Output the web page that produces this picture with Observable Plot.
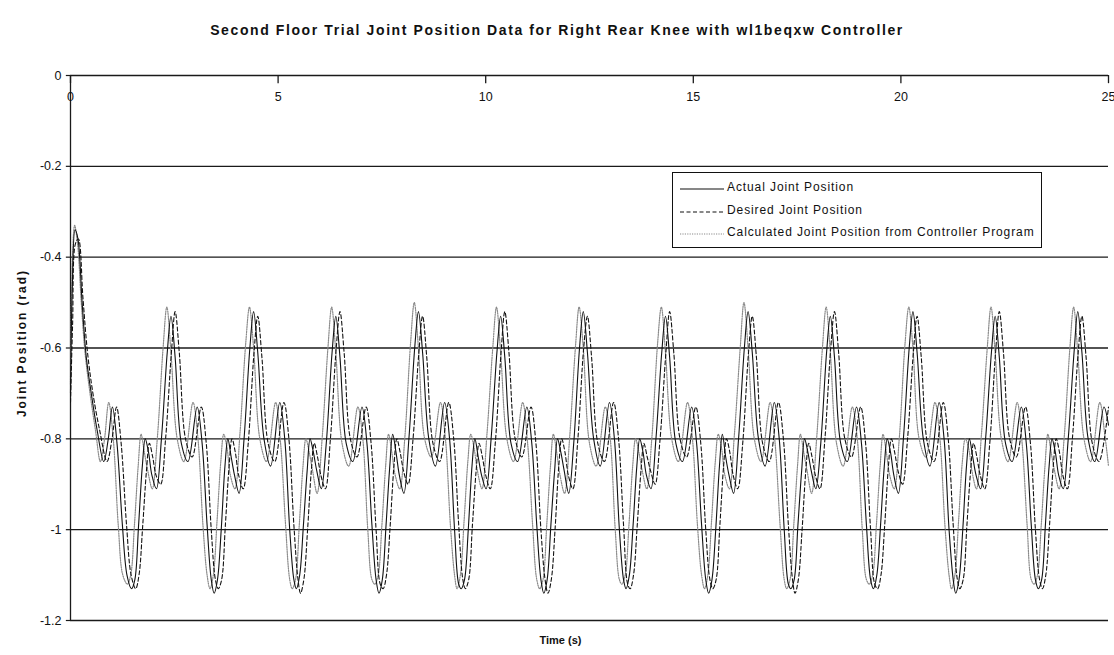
<!DOCTYPE html>
<html>
<head>
<meta charset="utf-8">
<script src="https://cdn.jsdelivr.net/npm/d3@7"></script>
<script src="https://cdn.jsdelivr.net/npm/@observablehq/plot@0.6"></script>
<style>
  body { margin:0; background:#fff; font-family:"Liberation Sans", Arial, sans-serif; }
  #wrap { position:relative; width:1114px; height:655px; }
  #title { height:45px; box-sizing:border-box; padding-top:22px; text-align:center; font-weight:bold; font-size:14px; letter-spacing:1.6px; line-height:16px; color:#111; }
  #legend { position:absolute; left:672px; top:172px; width:370px; height:76px; border:1px solid #111; background:#fff; box-sizing:border-box; }
  #legend .row { position:absolute; left:0; height:20px; width:100%; font-size:12px; letter-spacing:0.9px; color:#111; }
  #legend svg { position:absolute; left:7px; top:9px; }
  #legend span { position:absolute; left:54px; top:2px; white-space:nowrap; }
</style>
</head>
<body>
<div id="wrap">
  <div id="title"></div>
  <div id="chart"></div>
  <div id="legend"></div>
</div>
<script>
const titleText = "Second Floor Trial Joint Position Data for Right Rear Knee with wl1beqxw Controller";
const xLabel = "Time (s)";
const yLabel = "Joint Position (rad)";
const xTicks = [0, 5, 10, 15, 20, 25];
const yTicks = [0, -0.2, -0.4, -0.6, -0.8, -1, -1.2];
const yTickLabels = ["0", "-0.2", "-0.4", "-0.6", "-0.8", "-1", "-1.2"];
const seriesNames = ["Actual Joint Position", "Desired Joint Position", "Calculated Joint Position from Controller Program"];

// Actual joint position (solid)
const actualTime = [
  0,0.04,0.11,0.18,0.28,0.38,0.50,0.64,0.80,0.91,1.01,1.12,1.25,1.36,
  1.47,1.55,1.64,1.73,1.80,1.88,1.96,2.07,2.19,2.33,2.42,2.52,2.67,2.83,3.05,3.17,3.29,3.39,
  3.46,3.54,3.63,3.72,3.79,3.87,3.95,4.06,4.18,4.32,4.41,4.51,4.66,4.82,5.04,5.16,5.28,5.38,
  5.44,5.52,5.61,5.70,5.77,5.85,5.93,6.04,6.16,6.30,6.39,6.49,6.64,6.80,7.02,7.14,7.26,7.36,
  7.43,7.51,7.60,7.69,7.76,7.84,7.92,8.03,8.15,8.29,8.38,8.48,8.63,8.79,9.01,9.13,9.25,9.35,
  9.41,9.49,9.58,9.67,9.74,9.82,9.90,10.01,10.13,10.27,10.36,10.46,10.61,10.77,10.99,11.11,11.23,11.33,
  11.40,11.48,11.57,11.66,11.73,11.81,11.89,12.00,12.12,12.26,12.35,12.45,12.60,12.76,12.98,13.10,13.22,13.32,
  13.38,13.46,13.55,13.64,13.71,13.79,13.87,13.98,14.10,14.24,14.33,14.43,14.58,14.74,14.96,15.08,15.20,15.30,
  15.37,15.45,15.54,15.63,15.70,15.78,15.86,15.97,16.09,16.23,16.32,16.42,16.57,16.73,16.95,17.07,17.19,17.29,
  17.35,17.43,17.52,17.61,17.68,17.76,17.84,17.95,18.07,18.21,18.30,18.40,18.55,18.71,18.93,19.05,19.17,19.27,
  19.34,19.42,19.51,19.60,19.67,19.75,19.83,19.94,20.06,20.20,20.29,20.39,20.54,20.70,20.92,21.04,21.16,21.26,
  21.32,21.40,21.49,21.58,21.65,21.73,21.81,21.92,22.04,22.18,22.27,22.37,22.52,22.68,22.90,23.02,23.14,23.24,
  23.31,23.39,23.48,23.57,23.64,23.72,23.80,23.91,24.03,24.17,24.26,24.36,24.51,24.67,24.89,25.00
];
const actualValue = [
  -0.70,-0.48,-0.34,-0.36,-0.50,-0.62,-0.70,-0.78,-0.85,-0.80,-0.73,-0.81,-0.99,-1.10,
  -1.13,-1.11,-0.99,-0.86,-0.80,-0.83,-0.88,-0.91,-0.80,-0.61,-0.53,-0.62,-0.81,-0.85,-0.73,-0.81,-0.99,-1.11,
  -1.14,-1.11,-1.00,-0.86,-0.80,-0.84,-0.88,-0.92,-0.80,-0.60,-0.52,-0.61,-0.80,-0.86,-0.72,-0.80,-1.00,-1.11,
  -1.13,-1.10,-0.99,-0.87,-0.80,-0.83,-0.87,-0.91,-0.81,-0.61,-0.53,-0.62,-0.81,-0.85,-0.73,-0.81,-0.99,-1.11,
  -1.14,-1.11,-0.99,-0.86,-0.79,-0.83,-0.88,-0.92,-0.80,-0.60,-0.52,-0.61,-0.80,-0.86,-0.72,-0.80,-1.00,-1.12,
  -1.13,-1.11,-1.00,-0.86,-0.80,-0.84,-0.88,-0.91,-0.80,-0.61,-0.53,-0.62,-0.81,-0.85,-0.73,-0.81,-0.99,-1.11,
  -1.14,-1.11,-0.99,-0.87,-0.80,-0.83,-0.87,-0.92,-0.81,-0.60,-0.52,-0.61,-0.80,-0.86,-0.72,-0.80,-1.00,-1.11,
  -1.13,-1.10,-0.99,-0.86,-0.80,-0.83,-0.88,-0.91,-0.80,-0.61,-0.53,-0.62,-0.81,-0.85,-0.73,-0.81,-0.99,-1.11,
  -1.14,-1.11,-1.00,-0.86,-0.79,-0.84,-0.88,-0.92,-0.80,-0.60,-0.52,-0.61,-0.80,-0.86,-0.72,-0.80,-1.00,-1.12,
  -1.13,-1.11,-0.99,-0.87,-0.80,-0.83,-0.87,-0.91,-0.81,-0.61,-0.53,-0.62,-0.81,-0.85,-0.73,-0.81,-0.99,-1.11,
  -1.13,-1.10,-0.99,-0.86,-0.80,-0.83,-0.88,-0.92,-0.80,-0.60,-0.52,-0.61,-0.80,-0.86,-0.72,-0.80,-1.00,-1.11,
  -1.14,-1.11,-1.00,-0.86,-0.80,-0.84,-0.88,-0.91,-0.80,-0.61,-0.53,-0.62,-0.81,-0.85,-0.73,-0.81,-0.99,-1.11,
  -1.13,-1.11,-0.99,-0.86,-0.80,-0.83,-0.88,-0.91,-0.80,-0.61,-0.52,-0.61,-0.80,-0.85,-0.73,-0.77
];

// Desired joint position (dashed)
const desiredTime = [
  0,0.05,0.12,0.19,0.30,0.41,0.54,0.70,0.88,1.00,1.11,1.22,1.35,1.46,
  1.57,1.65,1.74,1.83,1.90,1.98,2.06,2.17,2.29,2.43,2.52,2.62,2.77,2.93,3.15,3.27,3.39,3.49,
  3.56,3.64,3.73,3.82,3.89,3.97,4.05,4.16,4.28,4.42,4.51,4.61,4.76,4.92,5.14,5.26,5.38,5.48,
  5.54,5.62,5.71,5.80,5.87,5.95,6.03,6.14,6.26,6.40,6.49,6.59,6.74,6.90,7.12,7.24,7.36,7.46,
  7.53,7.61,7.70,7.79,7.86,7.94,8.02,8.13,8.25,8.39,8.48,8.58,8.73,8.89,9.11,9.23,9.35,9.45,
  9.51,9.59,9.68,9.77,9.84,9.92,10.00,10.11,10.23,10.37,10.46,10.56,10.71,10.87,11.09,11.21,11.33,11.43,
  11.50,11.58,11.67,11.76,11.83,11.91,11.99,12.10,12.22,12.36,12.45,12.55,12.70,12.86,13.08,13.20,13.32,13.42,
  13.48,13.56,13.65,13.74,13.81,13.89,13.97,14.08,14.20,14.34,14.43,14.53,14.68,14.84,15.06,15.18,15.30,15.40,
  15.47,15.55,15.64,15.73,15.80,15.88,15.96,16.07,16.19,16.33,16.42,16.52,16.67,16.83,17.05,17.17,17.29,17.39,
  17.45,17.53,17.62,17.71,17.78,17.86,17.94,18.05,18.17,18.31,18.40,18.50,18.65,18.81,19.03,19.15,19.27,19.37,
  19.44,19.52,19.61,19.70,19.77,19.85,19.93,20.04,20.16,20.30,20.39,20.49,20.64,20.80,21.02,21.14,21.26,21.36,
  21.42,21.50,21.59,21.68,21.75,21.83,21.91,22.02,22.14,22.28,22.37,22.47,22.62,22.78,23.00,23.12,23.24,23.34,
  23.41,23.49,23.58,23.67,23.74,23.82,23.90,24.01,24.13,24.27,24.36,24.46,24.61,24.77,25.00
];
const desiredValue = [
  -0.72,-0.55,-0.37,-0.36,-0.49,-0.61,-0.70,-0.78,-0.85,-0.80,-0.73,-0.81,-0.99,-1.10,
  -1.13,-1.10,-0.99,-0.87,-0.81,-0.84,-0.88,-0.90,-0.80,-0.61,-0.52,-0.61,-0.80,-0.84,-0.73,-0.81,-1.00,-1.11,
  -1.13,-1.11,-0.99,-0.86,-0.80,-0.83,-0.88,-0.91,-0.81,-0.61,-0.53,-0.62,-0.81,-0.85,-0.72,-0.80,-0.99,-1.11,
  -1.14,-1.11,-1.00,-0.87,-0.81,-0.84,-0.88,-0.91,-0.80,-0.60,-0.52,-0.61,-0.80,-0.84,-0.73,-0.81,-1.00,-1.12,
  -1.13,-1.10,-0.99,-0.86,-0.80,-0.83,-0.87,-0.90,-0.80,-0.61,-0.53,-0.62,-0.81,-0.85,-0.72,-0.80,-0.99,-1.11,
  -1.13,-1.11,-0.99,-0.87,-0.81,-0.84,-0.88,-0.91,-0.81,-0.61,-0.52,-0.61,-0.80,-0.84,-0.73,-0.81,-1.00,-1.11,
  -1.14,-1.11,-1.00,-0.86,-0.80,-0.83,-0.88,-0.91,-0.80,-0.60,-0.53,-0.62,-0.81,-0.85,-0.72,-0.80,-0.99,-1.12,
  -1.13,-1.10,-0.99,-0.87,-0.81,-0.84,-0.87,-0.90,-0.80,-0.61,-0.52,-0.61,-0.80,-0.84,-0.73,-0.81,-1.00,-1.11,
  -1.13,-1.11,-0.99,-0.86,-0.80,-0.83,-0.88,-0.91,-0.81,-0.61,-0.53,-0.62,-0.81,-0.85,-0.72,-0.80,-0.99,-1.11,
  -1.14,-1.11,-1.00,-0.87,-0.81,-0.84,-0.88,-0.91,-0.80,-0.60,-0.52,-0.61,-0.80,-0.84,-0.73,-0.81,-1.00,-1.12,
  -1.13,-1.10,-0.99,-0.86,-0.80,-0.83,-0.87,-0.90,-0.80,-0.61,-0.53,-0.62,-0.81,-0.85,-0.72,-0.80,-0.99,-1.11,
  -1.13,-1.11,-0.99,-0.87,-0.81,-0.84,-0.88,-0.91,-0.81,-0.61,-0.52,-0.61,-0.80,-0.84,-0.73,-0.81,-1.00,-1.11,
  -1.13,-1.10,-0.99,-0.86,-0.80,-0.83,-0.88,-0.91,-0.80,-0.61,-0.53,-0.62,-0.81,-0.85,-0.73
];

// Calculated joint position from controller program (dotted grey)
const calcTime = [
  0,0.04,0.10,0.17,0.26,0.35,0.47,0.60,0.72,0.82,0.92,1.03,1.15,1.26,
  1.37,1.45,1.54,1.63,1.70,1.78,1.86,1.97,2.09,2.23,2.32,2.42,2.57,2.73,2.95,3.07,3.19,3.29,
  3.36,3.44,3.53,3.62,3.69,3.77,3.85,3.96,4.08,4.22,4.31,4.41,4.56,4.72,4.94,5.06,5.18,5.28,
  5.34,5.42,5.51,5.60,5.67,5.75,5.83,5.94,6.06,6.20,6.29,6.39,6.54,6.70,6.92,7.04,7.16,7.26,
  7.33,7.41,7.50,7.59,7.66,7.74,7.82,7.93,8.05,8.19,8.28,8.38,8.53,8.69,8.91,9.03,9.15,9.25,
  9.31,9.39,9.48,9.57,9.64,9.72,9.80,9.91,10.03,10.17,10.26,10.36,10.51,10.67,10.89,11.01,11.13,11.23,
  11.30,11.38,11.47,11.56,11.63,11.71,11.79,11.90,12.02,12.16,12.25,12.35,12.50,12.66,12.88,13.00,13.12,13.22,
  13.28,13.36,13.45,13.54,13.61,13.69,13.77,13.88,14.00,14.14,14.23,14.33,14.48,14.64,14.86,14.98,15.10,15.20,
  15.27,15.35,15.44,15.53,15.60,15.68,15.76,15.87,15.99,16.13,16.22,16.32,16.47,16.63,16.85,16.97,17.09,17.19,
  17.25,17.33,17.42,17.51,17.58,17.66,17.74,17.85,17.97,18.11,18.20,18.30,18.45,18.61,18.83,18.95,19.07,19.17,
  19.24,19.32,19.41,19.50,19.57,19.65,19.73,19.84,19.96,20.10,20.19,20.29,20.44,20.60,20.82,20.94,21.06,21.16,
  21.22,21.30,21.39,21.48,21.55,21.63,21.71,21.82,21.94,22.08,22.17,22.27,22.42,22.58,22.80,22.92,23.04,23.14,
  23.21,23.29,23.38,23.47,23.54,23.62,23.70,23.81,23.93,24.07,24.16,24.26,24.41,24.57,24.79,24.91,25.00
];
const calcValue = [
  -0.68,-0.42,-0.33,-0.37,-0.50,-0.61,-0.70,-0.78,-0.85,-0.80,-0.72,-0.80,-0.99,-1.10,
  -1.12,-1.10,-0.99,-0.86,-0.79,-0.83,-0.87,-0.91,-0.80,-0.60,-0.51,-0.61,-0.80,-0.85,-0.72,-0.80,-0.99,-1.10,
  -1.13,-1.10,-0.98,-0.85,-0.79,-0.82,-0.88,-0.91,-0.79,-0.59,-0.51,-0.60,-0.80,-0.85,-0.72,-0.81,-0.99,-1.11,
  -1.13,-1.11,-0.99,-0.86,-0.80,-0.83,-0.87,-0.92,-0.80,-0.60,-0.51,-0.61,-0.81,-0.86,-0.73,-0.80,-1.00,-1.11,
  -1.12,-1.10,-0.99,-0.86,-0.79,-0.83,-0.88,-0.91,-0.80,-0.59,-0.50,-0.60,-0.80,-0.84,-0.72,-0.80,-0.99,-1.10,
  -1.13,-1.10,-0.98,-0.85,-0.79,-0.82,-0.87,-0.91,-0.79,-0.60,-0.51,-0.61,-0.80,-0.85,-0.72,-0.81,-0.99,-1.11,
  -1.13,-1.11,-0.99,-0.86,-0.79,-0.83,-0.88,-0.92,-0.80,-0.60,-0.51,-0.60,-0.81,-0.86,-0.73,-0.80,-1.00,-1.11,
  -1.12,-1.10,-0.99,-0.86,-0.80,-0.83,-0.87,-0.91,-0.80,-0.59,-0.51,-0.61,-0.80,-0.85,-0.72,-0.80,-0.99,-1.10,
  -1.13,-1.10,-0.98,-0.85,-0.79,-0.82,-0.88,-0.91,-0.79,-0.60,-0.50,-0.60,-0.80,-0.85,-0.72,-0.81,-0.99,-1.11,
  -1.13,-1.11,-0.99,-0.86,-0.79,-0.83,-0.87,-0.92,-0.80,-0.60,-0.51,-0.61,-0.81,-0.86,-0.73,-0.80,-1.00,-1.11,
  -1.12,-1.10,-0.99,-0.86,-0.79,-0.83,-0.88,-0.91,-0.80,-0.59,-0.51,-0.60,-0.80,-0.84,-0.72,-0.80,-0.99,-1.10,
  -1.13,-1.10,-0.98,-0.85,-0.80,-0.82,-0.87,-0.91,-0.79,-0.60,-0.51,-0.61,-0.80,-0.85,-0.72,-0.81,-0.99,-1.11,
  -1.12,-1.10,-0.99,-0.86,-0.79,-0.83,-0.87,-0.91,-0.80,-0.60,-0.51,-0.61,-0.80,-0.85,-0.72,-0.79,-0.86
];

const styles = [
  {stroke: "#111", strokeWidth: 1.1, dash: null},
  {stroke: "#111", strokeWidth: 1.1, dash: "4,2.5"},
  {stroke: "#8a8a8a", strokeWidth: 1.2, dash: "1.2,1.2"}
];

function build(name, t, v) {
  return d3.zip(t, v).map(([time, value]) => ({series: name, time, value}));
}
const data = [
  build(seriesNames[0], actualTime, actualValue),
  build(seriesNames[1], desiredTime, desiredValue),
  build(seriesNames[2], calcTime, calcValue)
];

const font = "Liberation Sans, Arial, sans-serif";

const lineMarks = [2, 1, 0].map(i => Plot.line(data[i], {
  x: "time", y: "value", curve: "catmull-rom",
  stroke: styles[i].stroke, strokeWidth: styles[i].strokeWidth,
  strokeDasharray: styles[i].dash
}));

const chart = Plot.plot({
  width: 1114, height: 610,
  marginTop: 30, marginLeft: 70, marginRight: 6, marginBottom: 35,
  style: {fontFamily: font, background: "#fff", color: "#111"},
  x: {domain: [0, 25], axis: null},
  y: {domain: [-1.2, 0], axis: null},
  marks: [
    Plot.ruleY(yTicks, {y: d => d, stroke: "#1a1a1a", strokeWidth: 1.3}),
    Plot.ruleY(yTicks, {y: d => d, x1: -0.1, x2: 0, stroke: "#1a1a1a", strokeWidth: 1.2}),
    Plot.ruleX([0], {y1: -1.2, y2: 0, stroke: "#1a1a1a", strokeWidth: 1.3}),
    Plot.ruleX(xTicks, {x: d => d, y1: 0, y2: -0.018, stroke: "#1a1a1a", strokeWidth: 1.3}),
    Plot.text(xTicks, {x: d => d, y: 0, dy: 21, text: d => String(d), fontSize: 12.5, fill: "#111"}),
    Plot.text(yTicks, {x: 0, y: d => d, dx: -9, textAnchor: "end", text: (d, i) => yTickLabels[i], fontSize: 12.5, fill: "#111"}),
    ...lineMarks,
    Plot.text([yLabel], {frameAnchor: "left", textAnchor: "middle", dx: -48, dy: -4, rotate: -90, text: d => d, fontSize: 12, fontWeight: "bold", fill: "#111"}),
    Plot.text([xLabel], {frameAnchor: "bottom", dx: -29, dy: 23, text: d => d, fontSize: 11, fontWeight: "bold", fill: "#111"})
  ]
});
chart.querySelectorAll("text").forEach(t => {
  if (t.textContent === yLabel) {
    t.setAttribute("textLength", "146");
    t.setAttribute("lengthAdjust", "spacing");
  }
});
document.getElementById("chart").appendChild(chart);
document.getElementById("title").textContent = titleText;

// legend
const legend = document.getElementById("legend");
const rowTops = [5, 28, 50];
seriesNames.forEach((name, i) => {
  const row = document.createElement("div");
  row.className = "row";
  row.style.top = rowTops[i] + "px";
  const dash = styles[i].dash ? `stroke-dasharray="${styles[i].dash}"` : "";
  row.innerHTML = `<svg width="44" height="4"><line x1="0" y1="2" x2="44" y2="2" stroke="${styles[i].stroke}" stroke-width="${styles[i].strokeWidth}" ${dash}/></svg><span>${name}</span>`;
  legend.appendChild(row);
});
</script>
</body>
</html>
